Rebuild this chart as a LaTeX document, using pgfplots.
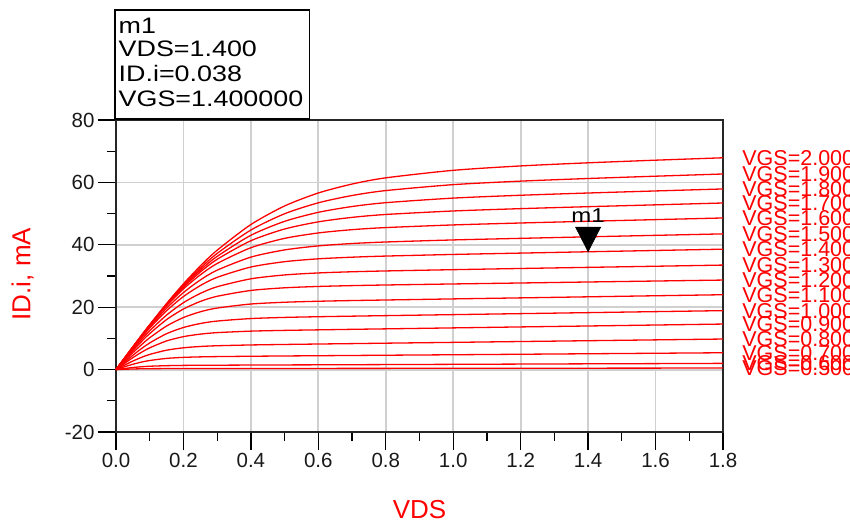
\documentclass[border=0pt]{standalone}
\usepackage{pgfplots}
\pgfplotsset{compat=1.18}
\usepackage{pgfplotstable}
\usepackage{fontspec}
\setmainfont{Liberation Sans}
\newfontfamily\markfont[FakeStretch=1.2]{Liberation Sans}
\definecolor{adsred}{RGB}{255,0,0}
\definecolor{gridgray}{RGB}{208,208,208}

\pgfplotstableread{
V     g20   g19   g18   g17   g16   g15   g14   g13   g12   g11   g10   g09   g08   g07   g06   g05
0     0     0     0     0     0     0     0     0     0     0     0     0     0     0     0     0
0.025 3.65  3.63  3.63  3.65  3.65  3.57  3.48  3.28  3.07  2.75  2.34  1.96  1.41  0.89  0.35  0.11
0.05  7.29  7.24  7.23  7.27  7.26  7.08  6.90  6.49  6.07  5.42  4.60  3.83  2.74  1.71  0.67  0.20
0.075 10.88 10.80 10.78 10.81 10.79 10.50 10.19 9.57  8.91  7.92  6.69  5.52  3.90  2.39  0.91  0.26
0.1   14.41 14.29 14.24 14.26 14.19 13.76 13.32 12.45 11.55 10.21 8.55  6.98  4.87  2.92  1.08  0.30
0.15  21.19 20.94 20.78 20.69 20.45 19.69 18.88 17.48 16.03 13.97 11.51 9.19  6.22  3.59  1.26  0.33
0.2   27.49 27.04 26.69 26.40 25.87 24.69 23.41 21.45 19.42 16.69 13.50 10.56 6.99  3.92  1.35  0.34
0.25  33.20 32.49 31.87 31.28 30.37 28.72 26.93 24.42 21.84 18.53 14.77 11.37 7.41  4.08  1.39  0.35
0.3   38.27 37.24 36.29 35.36 34.01 31.87 29.57 26.56 23.50 19.73 15.56 11.85 7.65  4.17  1.41  0.35
0.4   46.50 44.74 43.05 41.31 39.07 36.05 32.88 29.10 25.37 21.02 16.36 12.33 7.90  4.28  1.46  0.36
0.5   52.45 49.95 47.52 45.06 42.06 38.36 34.59 30.34 26.22 21.59 16.73 12.57 8.06  4.37  1.50  0.37
0.6   56.61 53.46 50.41 47.36 43.80 39.65 35.51 30.98 26.65 21.91 16.95 12.74 8.20  4.45  1.53  0.38
0.7   59.47 55.80 52.27 48.79 44.85 40.41 36.03 31.36 26.92 22.13 17.13 12.91 8.33  4.53  1.57  0.39
0.8   61.46 57.38 53.50 49.72 45.52 40.90 36.39 31.62 27.12 22.31 17.30 13.06 8.47  4.61  1.61  0.40
1.0   63.87 59.28 54.97 50.84 46.37 41.56 36.91 32.03 27.45 22.66 17.62 13.37 8.73  4.76  1.69  0.42
1.2   65.28 60.41 55.88 51.59 46.99 42.07 37.34 32.41 27.76 22.99 17.94 13.68 9.00  4.92  1.77  0.44
1.4   66.28 61.25 56.60 52.22 47.54 42.56 37.77 32.77 28.08 23.33 18.26 13.98 9.26  5.08  1.85  0.46
1.6   67.12 61.99 57.26 52.81 48.07 43.03 38.18 33.13 28.39 23.67 18.58 14.29 9.53  5.24  1.92  0.48
1.8   67.89 62.70 57.90 53.40 48.60 43.50 38.60 33.50 28.70 24.00 18.90 14.60 9.80  5.40  2.00  0.50
}\iv

\pgfplotsset{
  ivcurve/.style={adsred, line width=1.3pt, smooth, tension=0.45},
}
\tikzset{
  endlab/.style={pos=1, anchor=west, xshift=18.7pt, inner sep=0pt,
    font=\fontsize{21.5}{24}\selectfont, text=adsred},
}

\begin{document}
\begin{tikzpicture}[x=1pt,y=1pt]
\useasboundingbox (0,0) rectangle (850,525);
\begin{axis}[
  at={(116pt,93pt)}, anchor=south west,
  scale only axis, width=607pt, height=312pt,
  xmin=0, xmax=1.8, ymin=-20, ymax=80,
  clip=false,
  xtick={0,0.2,0.4,0.6,0.8,1.0,1.2,1.4,1.6,1.8},
  xticklabels={0.0,0.2,0.4,0.6,0.8,1.0,1.2,1.4,1.6,1.8},
  minor xtick={0.1,0.3,0.5,0.7,0.9,1.1,1.3,1.5,1.7},
  ytick={-20,0,20,40,60,80},
  yticklabels={-20,0,20,40,60,80},
  minor ytick={-10,10,30,50,70},
  tick pos=left, tick align=outside,
  major tick length=18pt, minor tick length=9pt,
  tick style={black, line width=1.3pt},
  grid=major,
  major grid style={gridgray, line width=1.8pt},
  axis line style={black!85, line width=1.5pt},
  ticklabel style={font=\fontsize{20.5}{24}\selectfont, text=black!90},
  xlabel={VDS},
  ylabel={ID.i, mA},
  xlabel style={at={(axis description cs:0.5,-0.247)}, anchor=center,
    font=\fontsize{26}{30}\selectfont, text=adsred},
  ylabel style={at={(axis description cs:-0.154,0.506)}, anchor=center,
    font=\fontsize{26}{30}\selectfont, text=adsred},
]
\addplot[ivcurve] table[x=V, y=g05] {\iv} node[endlab] {VGS=0.500};
\addplot[ivcurve] table[x=V, y=g06] {\iv} node[endlab] {VGS=0.600};
\addplot[ivcurve] table[x=V, y=g07] {\iv} node[endlab] {VGS=0.700};
\addplot[ivcurve] table[x=V, y=g08] {\iv} node[endlab] {VGS=0.800};
\addplot[ivcurve] table[x=V, y=g09] {\iv} node[endlab] {VGS=0.900};
\addplot[ivcurve] table[x=V, y=g10] {\iv} node[endlab] {VGS=1.000};
\addplot[ivcurve] table[x=V, y=g11] {\iv} node[endlab] {VGS=1.100};
\addplot[ivcurve] table[x=V, y=g12] {\iv} node[endlab] {VGS=1.200};
\addplot[ivcurve] table[x=V, y=g13] {\iv} node[endlab] {VGS=1.300};
\addplot[ivcurve] table[x=V, y=g14] {\iv} node[endlab] {VGS=1.400};
\addplot[ivcurve] table[x=V, y=g15] {\iv} node[endlab] {VGS=1.500};
\addplot[ivcurve] table[x=V, y=g16] {\iv} node[endlab] {VGS=1.600};
\addplot[ivcurve] table[x=V, y=g17] {\iv} node[endlab] {VGS=1.700};
\addplot[ivcurve] table[x=V, y=g18] {\iv} node[endlab] {VGS=1.800};
\addplot[ivcurve] table[x=V, y=g19] {\iv} node[endlab] {VGS=1.900};
\addplot[ivcurve] table[x=V, y=g20] {\iv} node[endlab] {VGS=2.000};
% marker m1
\addplot[only marks, mark=triangle*, mark size=14.5pt,
  mark options={draw=black, fill=black, line width=0.5pt, yshift=16.4pt, yscale=-1.13},
  nodes near coords={m1},
  every node near coord/.append style={anchor=base, yshift=12.4pt, inner sep=0pt,
    font=\markfont\fontsize{20}{24}\selectfont, text=black}]
  coordinates {(1.4,37.77)};
\end{axis}
% marker readout box
\draw[line width=1.6pt, black, fill=white] (115,406) rectangle (309.3,515);
\begin{scope}[every node/.style={anchor=base west, inner sep=0pt,
    font=\markfont\fontsize{22.4}{26}\selectfont, text=black}]
\node at (118.5,491.7) {m1};
\node at (118.5,468.3) {VDS=1.400};
\node at (118.5,443.3) {ID.i=0.038};
\node at (118.5,418.3) {VGS=1.400000};
\end{scope}
\end{tikzpicture}
\end{document}
